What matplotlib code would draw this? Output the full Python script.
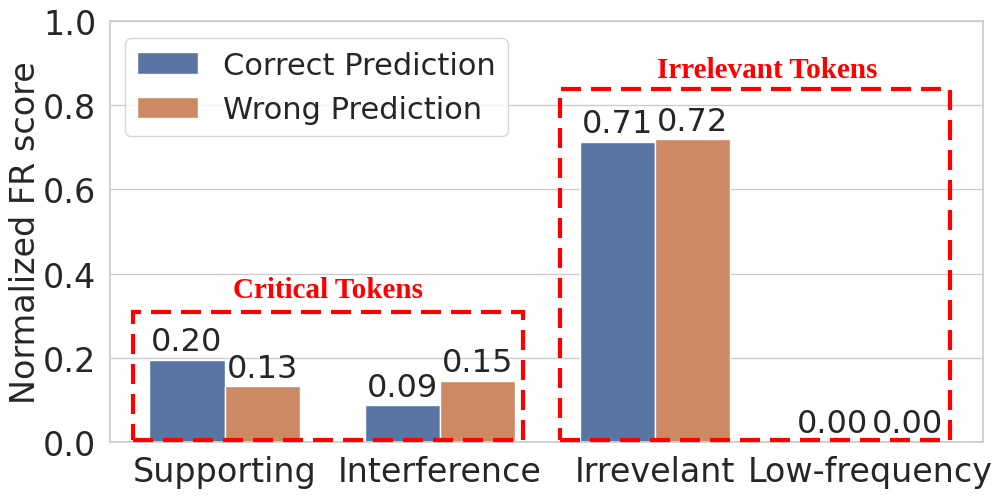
import numpy as np
import matplotlib.pyplot as plt
import matplotlib.patches as patches
import seaborn as sns

categories = ["Supporting", "Interference", "Irrevelant", "Low-frequency"]
correct = [0.196, 0.087, 0.713, 0.0]
wrong = [0.132, 0.146, 0.719, 0.0]
series_names = ["Correct Prediction", "Wrong Prediction"]

sns.set_theme(style="whitegrid")
plt.rcParams['font.family'] = ['DejaVu Sans']

pal = sns.color_palette("deep")
c_blue = sns.desaturate(pal[0], 0.75)
c_orange = sns.desaturate(pal[1], 0.75)

fig = plt.figure(figsize=(9.96, 5.02), dpi=100)
ax = fig.add_axes([0.110, 0.1175, 0.877, 0.8385])

x = np.arange(len(categories))
w = 0.35
b1 = ax.bar(x - w / 2, correct, w, color=c_blue, edgecolor="white", label=series_names[0])
b2 = ax.bar(x + w / 2, wrong, w, color=c_orange, edgecolor="white", label=series_names[1])
ax.bar_label(b1, fmt="%.2f", fontsize=23, padding=2)
ax.bar_label(b2, fmt="%.2f", fontsize=23, padding=2)

ax.set_xlim(-0.535, 3.525)
ax.set_ylim(0, 1.0)
ax.set_yticks(np.arange(0, 1.01, 0.2))
ax.set_xticks(x)
ax.set_xticklabels(categories, fontsize=24)
ax.tick_params(axis="y", labelsize=24)
ax.set_ylabel("Normalized FR score", fontsize=24, labelpad=1)
ax.grid(axis="x", visible=False)

# dashed groups
ax.add_patch(patches.Rectangle((-0.428, 0.005), 1.814, 0.304, fill=False,
                               edgecolor="red", linewidth=3, linestyle=(0, (4.8, 2.4)),
                               clip_on=False, zorder=5))
ax.add_patch(patches.Rectangle((1.558, 0.005), 1.814, 0.833, fill=False,
                               edgecolor="red", linewidth=3, linestyle=(0, (4.8, 2.4)),
                               clip_on=False, zorder=5))
ax.text(0.48, 0.362, "Critical Tokens", color="red", fontsize=21, fontweight="bold",
        family="Liberation Serif", ha="center", va="center")
ax.text(2.52, 0.886, "Irrelevant Tokens", color="red", fontsize=21, fontweight="bold",
        family="Liberation Serif", ha="center", va="center")

ax.legend(loc="upper left", fontsize=22, bbox_to_anchor=(0.0, 0.995))

fig.savefig("out.png", dpi=100)
